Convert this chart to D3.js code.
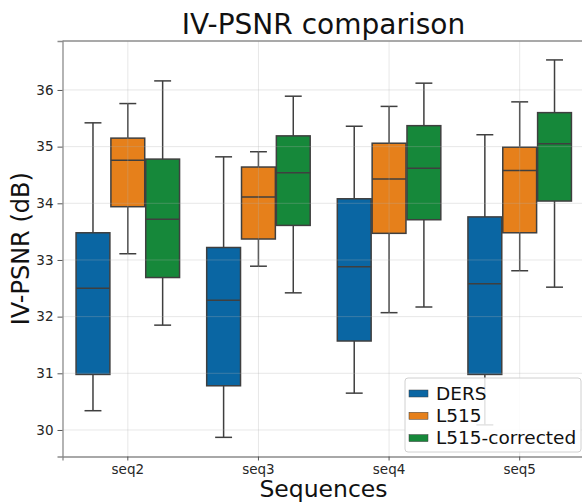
<!DOCTYPE html>
<html>
<head>
<meta charset="utf-8">
<script src="https://cdn.jsdelivr.net/npm/d3@7"></script>
<style>
  body { margin: 0; background: #fff; }
  text { font-family: "DejaVu Sans", sans-serif; }
</style>
</head>
<body>
<div id="chart"></div>
<script>
// data: [whiskerLow, q1, median, q3, whiskerHigh]
const sequences = ["seq2", "seq3", "seq4", "seq5"]
const methods = ["DERS", "L515", "L515-corrected"]
const ders = [
    [30.34, 30.98, 32.50, 33.48, 35.42],
    [29.87, 30.78, 32.29, 33.22, 34.82],
    [30.65, 31.57, 32.88, 34.08, 35.36],
    [30.09, 30.98, 32.58, 33.76, 35.21]
]
const l515 = [
    [33.11, 33.94, 34.76, 35.15, 35.76],
    [32.89, 33.37, 34.11, 34.64, 34.91],
    [32.07, 33.47, 34.43, 35.06, 35.71],
    [32.81, 33.48, 34.58, 34.99, 35.79]
]
const l515Corrected = [
    [31.85, 32.69, 33.72, 34.78, 36.16],
    [32.42, 33.61, 34.54, 35.19, 35.89],
    [32.17, 33.71, 34.62, 35.37, 36.12],
    [32.52, 34.04, 35.05, 35.60, 36.53]
]
const yTicks = [30, 31, 32, 33, 34, 35, 36]

const colors = ["#0a66a3", "#e6801b", "#16883a"]
const strokeCol = "#3f3f3f"

const width = 582
const height = 502
const margin = {top: 41, right: -3, bottom: 45.5, left: 62.5}

const svg = d3.select("#chart").append("svg")
    .attr("width", width)
    .attr("height", height)

const xScale = d3.scaleBand()
    .domain(sequences)
    .range([margin.left, width - margin.right])
    .padding(0)

const yScale = d3.scaleLinear()
    .domain([29.532, 36.864])
    .range([height - margin.bottom, margin.top])

const hueScale = d3.scaleBand()
    .domain(methods)
    .range([0, xScale.bandwidth() * 0.8])

const series = [ders, l515, l515Corrected]
const rows = []
methods.forEach((m, i) => {
    series[i].forEach((s, j) => {
        rows.push({seq: sequences[j], method: m, idx: i, lo: s[0], q1: s[1], med: s[2], q3: s[3], hi: s[4]})
    })
})

const boxW = hueScale.bandwidth() - 1
const cx = d => xScale(d.seq) + xScale.bandwidth() * 0.1 + hueScale(d.method) + hueScale.bandwidth() / 2

// boxes
const boxes = svg.append("g").selectAll("g")
    .data(rows)
    .join("g")
        .attr("stroke", strokeCol)
        .attr("stroke-width", 1.5)

boxes.append("line")
    .attr("x1", cx).attr("x2", cx)
    .attr("y1", d => yScale(d.hi)).attr("y2", d => yScale(d.q3))
boxes.append("line")
    .attr("x1", cx).attr("x2", cx)
    .attr("y1", d => yScale(d.q1)).attr("y2", d => yScale(d.lo))
boxes.append("line")
    .attr("x1", d => cx(d) - boxW / 4).attr("x2", d => cx(d) + boxW / 4)
    .attr("y1", d => yScale(d.hi)).attr("y2", d => yScale(d.hi))
boxes.append("line")
    .attr("x1", d => cx(d) - boxW / 4).attr("x2", d => cx(d) + boxW / 4)
    .attr("y1", d => yScale(d.lo)).attr("y2", d => yScale(d.lo))
boxes.append("rect")
    .attr("x", d => cx(d) - boxW / 2)
    .attr("width", boxW)
    .attr("y", d => yScale(d.q3))
    .attr("height", d => yScale(d.q1) - yScale(d.q3))
    .attr("fill", d => colors[d.idx])
boxes.append("line")
    .attr("x1", d => cx(d) - boxW / 2).attr("x2", d => cx(d) + boxW / 2)
    .attr("y1", d => yScale(d.med)).attr("y2", d => yScale(d.med))

// grid (drawn on top, faint)
const grid = svg.append("g")
    .attr("stroke", "#b0b0b0")
    .attr("stroke-opacity", 0.3)
    .attr("stroke-width", 1)
grid.selectAll(".gy").data(yTicks).join("line")
    .attr("x1", margin.left).attr("x2", width)
    .attr("y1", d => yScale(d)).attr("y2", d => yScale(d))
grid.selectAll(".gx").data(sequences).join("line")
    .attr("x1", d => xScale(d) + xScale.bandwidth() / 2)
    .attr("x2", d => xScale(d) + xScale.bandwidth() / 2)
    .attr("y1", margin.top).attr("y2", height - margin.bottom)

// axes
const xAxis = d3.axisBottom(xScale).tickSize(4).tickPadding(4)
const yAxis = d3.axisLeft(yScale).tickValues(yTicks).tickSize(5).tickPadding(4)

const xGroup = svg.append("g")
    .attr("transform", `translate(0, ${height - margin.bottom})`)
    .call(xAxis)
const yGroup = svg.append("g")
    .attr("transform", `translate(${margin.left}, 0)`)
    .call(yAxis)

for (const g of [xGroup, yGroup]) {
    g.select(".domain").attr("stroke", "#8c8c8c").attr("stroke-width", 1.3)
    g.selectAll(".tick line").attr("stroke", "#555")
    g.selectAll(".tick text")
        .attr("fill", "#262626")
        .style("font-size", "13.5px")
        .style("font-family", "DejaVu Sans")
}
// top spine
svg.append("line")
    .attr("x1", margin.left).attr("x2", width)
    .attr("y1", margin.top).attr("y2", margin.top)
    .attr("stroke", "#8c8c8c").attr("stroke-width", 1.3)

// labels
svg.append("text")
    .attr("x", 323.5).attr("y", 34)
    .attr("text-anchor", "middle")
    .style("font-size", "28px")
    .attr("fill", "#111")
    .text("IV-PSNR comparison")

svg.append("text")
    .attr("x", 323.5).attr("y", 497)
    .attr("text-anchor", "middle")
    .style("font-size", "23.5px")
    .attr("fill", "#111")
    .text("Sequences")

svg.append("text")
    .attr("transform", `translate(29, ${(margin.top + height - margin.bottom) / 2}) rotate(-90)`)
    .attr("text-anchor", "middle")
    .style("font-size", "24px")
    .attr("fill", "#111")
    .text("IV-PSNR (dB)")

// legend
const legend = svg.append("g").attr("transform", "translate(405, 378)")
legend.append("rect")
    .attr("width", 176).attr("height", 74).attr("rx", 3)
    .attr("fill", "#fff").attr("fill-opacity", 0.85)
    .attr("stroke", "#d0d0d0")
const items = legend.selectAll(".item").data(methods).join("g")
    .attr("transform", (d, i) => `translate(0, ${15 + i * 22.3})`)
items.append("rect")
    .attr("x", 4).attr("y", -3).attr("width", 19).attr("height", 7)
    .attr("fill", (d, i) => colors[i])
    .attr("stroke", strokeCol).attr("stroke-width", 0.5)
items.append("text")
    .attr("x", 31).attr("y", 6.8)
    .style("font-size", "18.5px")
    .attr("fill", "#111")
    .text(d => d)
</script>
</body>
</html>
